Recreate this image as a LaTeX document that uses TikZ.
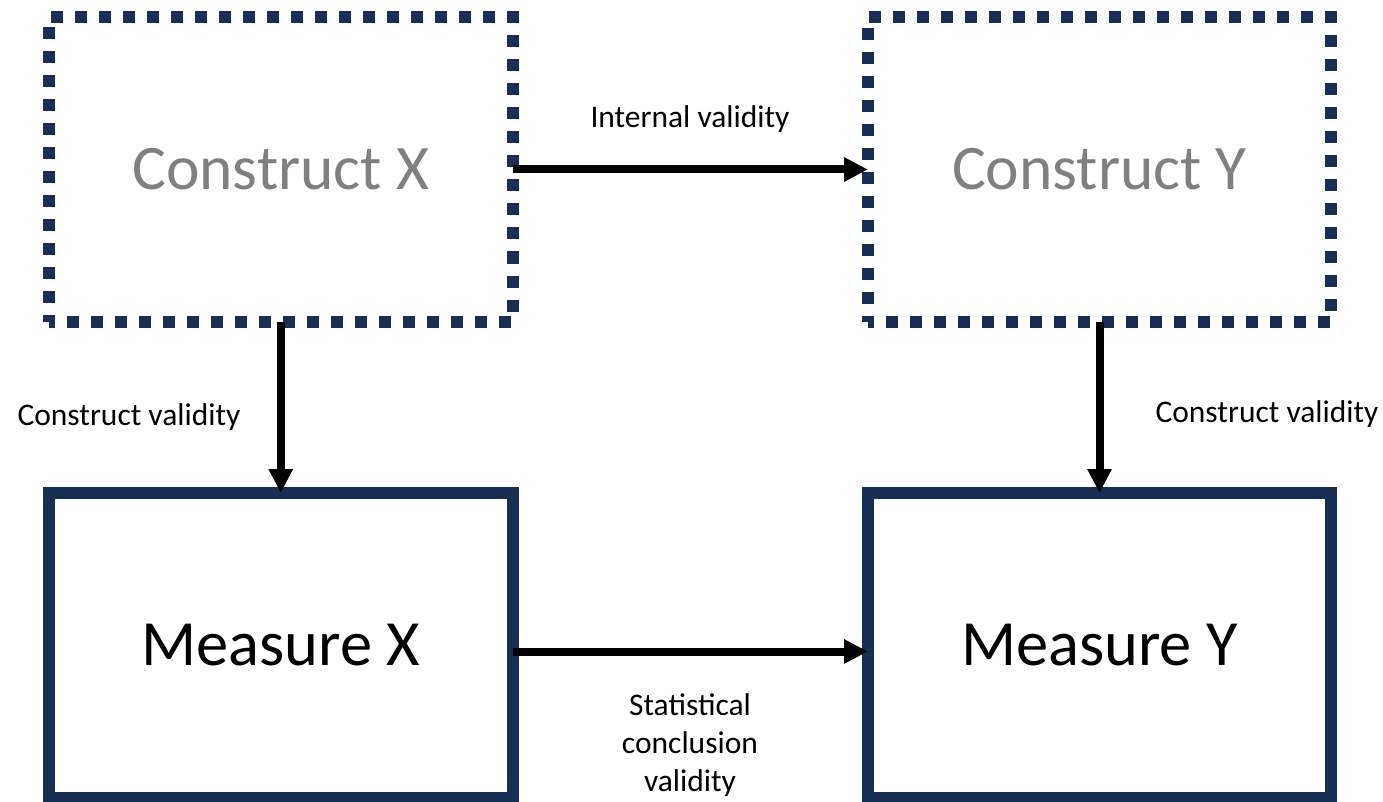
\documentclass[tikz,border=0pt]{standalone}
\usepackage{fontspec}
\setmainfont{Carlito}
\usetikzlibrary{arrows.meta}
\definecolor{navy}{RGB}{24,46,84}
\definecolor{constructgray}{RGB}{128,128,128}
\tikzset{
  box/.style={draw=navy, line width=12pt, rectangle, outer sep=0pt, inner sep=0pt},
  construct/.style={box, dash pattern=on 12pt off 12pt, dash phase=6pt, text=constructgray,
    font=\fontsize{63.5}{75}\selectfont},
  measure/.style={box, font=\fontsize{64.5}{78}\selectfont},
  link/.style={line width=8pt, -{Triangle[length=24pt,width=23pt]}},
  lbl/.style={font=\fontsize{31.5}{38}\selectfont, anchor=base, inner sep=0pt}
}
\begin{document}
\begin{tikzpicture}[x=1pt, y=-1pt]
\useasboundingbox (0,0) rectangle (1383,802);

% the four boxes
\node[construct, minimum width=463.5pt, minimum height=305pt] (cx) at (280.75,169.5) {Construct X};
\node[construct, minimum width=463pt, minimum height=305pt] (cy) at (1099.5,169.5) {Construct Y};
\node[measure, minimum width=463.5pt, minimum height=305pt] (mx) at (280.75,645.5) {Measure X};
\node[measure, minimum width=463pt, minimum height=305pt] (my) at (1099.5,645.5) {Measure Y};

% connectors
\draw[link] (cx.east) -- (cy.west);
\draw[link] (cx.south) -- (mx.north);
\draw[link] (cy.south) -- (my.north);
\draw[link] ([yshift=-6pt]mx.east) -- ([yshift=-6pt]my.west);

% validity labels
\node[lbl] (liv) at (690,128) {Internal validity};
\node[lbl] (lcx) at (129,425) {Construct validity};
\node[lbl] (lcy) at (1267,422) {Construct validity};
\node[lbl, align=center, anchor=north] (lsc) at (690,693) {Statistical\\conclusion\\validity};
\end{tikzpicture}
\end{document}
